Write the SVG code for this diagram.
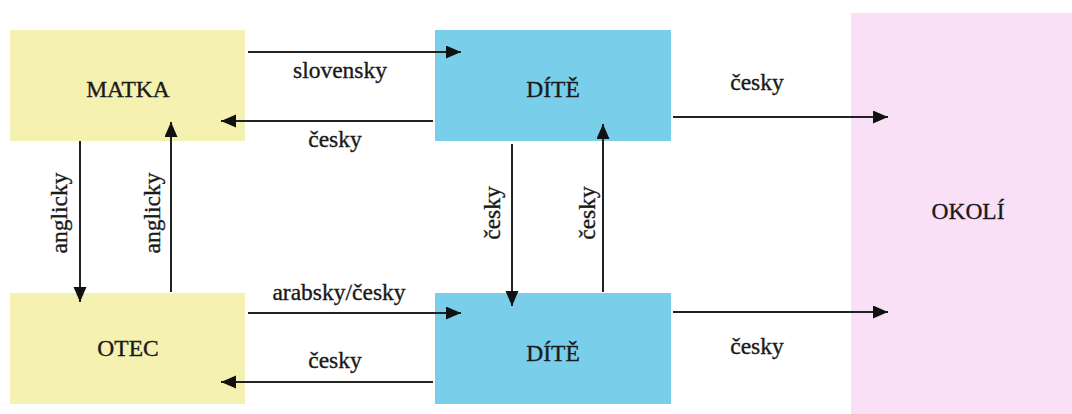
<svg xmlns="http://www.w3.org/2000/svg" width="1072" height="414" viewBox="0 0 1072 414">
<style>
.t{font-family:"Liberation Serif","Times New Roman",serif;font-size:23.5px;fill:#1a1a1a;stroke:#1a1a1a;stroke-width:0.35;text-anchor:middle}
.y{fill:#f4f1b1}
.b{fill:#79cfea}
.p{fill:#f9e0f6}
.c{stroke:#222;stroke-width:2;fill:none;marker-end:url(#ah)}
</style>
<defs>
<marker id="ah" markerUnits="userSpaceOnUse" markerWidth="16" markerHeight="14" refX="15" refY="6.5" orient="auto">
<path d="M0,0 L15,6.5 L0,13 z" fill="#111"/>
</marker>
</defs>
<rect width="1072" height="414" fill="#fff"/>
<g id="okoli"><rect class="p" x="851" y="13" width="240" height="410"/><text class="t" x="968" y="219">OKOLÍ</text></g>
<g id="matka"><rect class="y" x="10" y="30" width="235" height="111"/><text class="t" x="128" y="97">MATKA</text></g>
<g id="otec"><rect class="y" x="10" y="293" width="235" height="111"/><text class="t" x="128" y="356">OTEC</text></g>
<g id="dite1"><rect class="b" x="435" y="30" width="236" height="111"/><text class="t" x="553" y="97">DÍTĚ</text></g>
<g id="dite2"><rect class="b" x="435" y="293" width="236" height="111"/><text class="t" x="553" y="361">DÍTĚ</text></g>
<g id="connectors">
<path class="c" d="M248,52 H461"/>
<path class="c" d="M433,121 H221"/>
<path class="c" d="M248,313 H461"/>
<path class="c" d="M433,382 H221"/>
<path class="c" d="M673,117 H888"/>
<path class="c" d="M673,312 H888"/>
<path class="c" d="M80,141 V302"/>
<path class="c" d="M171,292 V122"/>
<path class="c" d="M512,144 V306"/>
<path class="c" d="M603,292 V124"/>
<text class="t" x="340" y="78">slovensky</text>
<text class="t" x="335" y="147">česky</text>
<text class="t" x="339" y="300">arabsky/česky</text>
<text class="t" x="335" y="368">česky</text>
<text class="t" x="757" y="90">česky</text>
<text class="t" x="757" y="354">česky</text>
<text class="t" transform="translate(67,213) rotate(-90)">anglicky</text>
<text class="t" transform="translate(160,213) rotate(-90)">anglicky</text>
<text class="t" transform="translate(500,213) rotate(-90)">česky</text>
<text class="t" transform="translate(595,213) rotate(-90)">česky</text>
</g>
</svg>
